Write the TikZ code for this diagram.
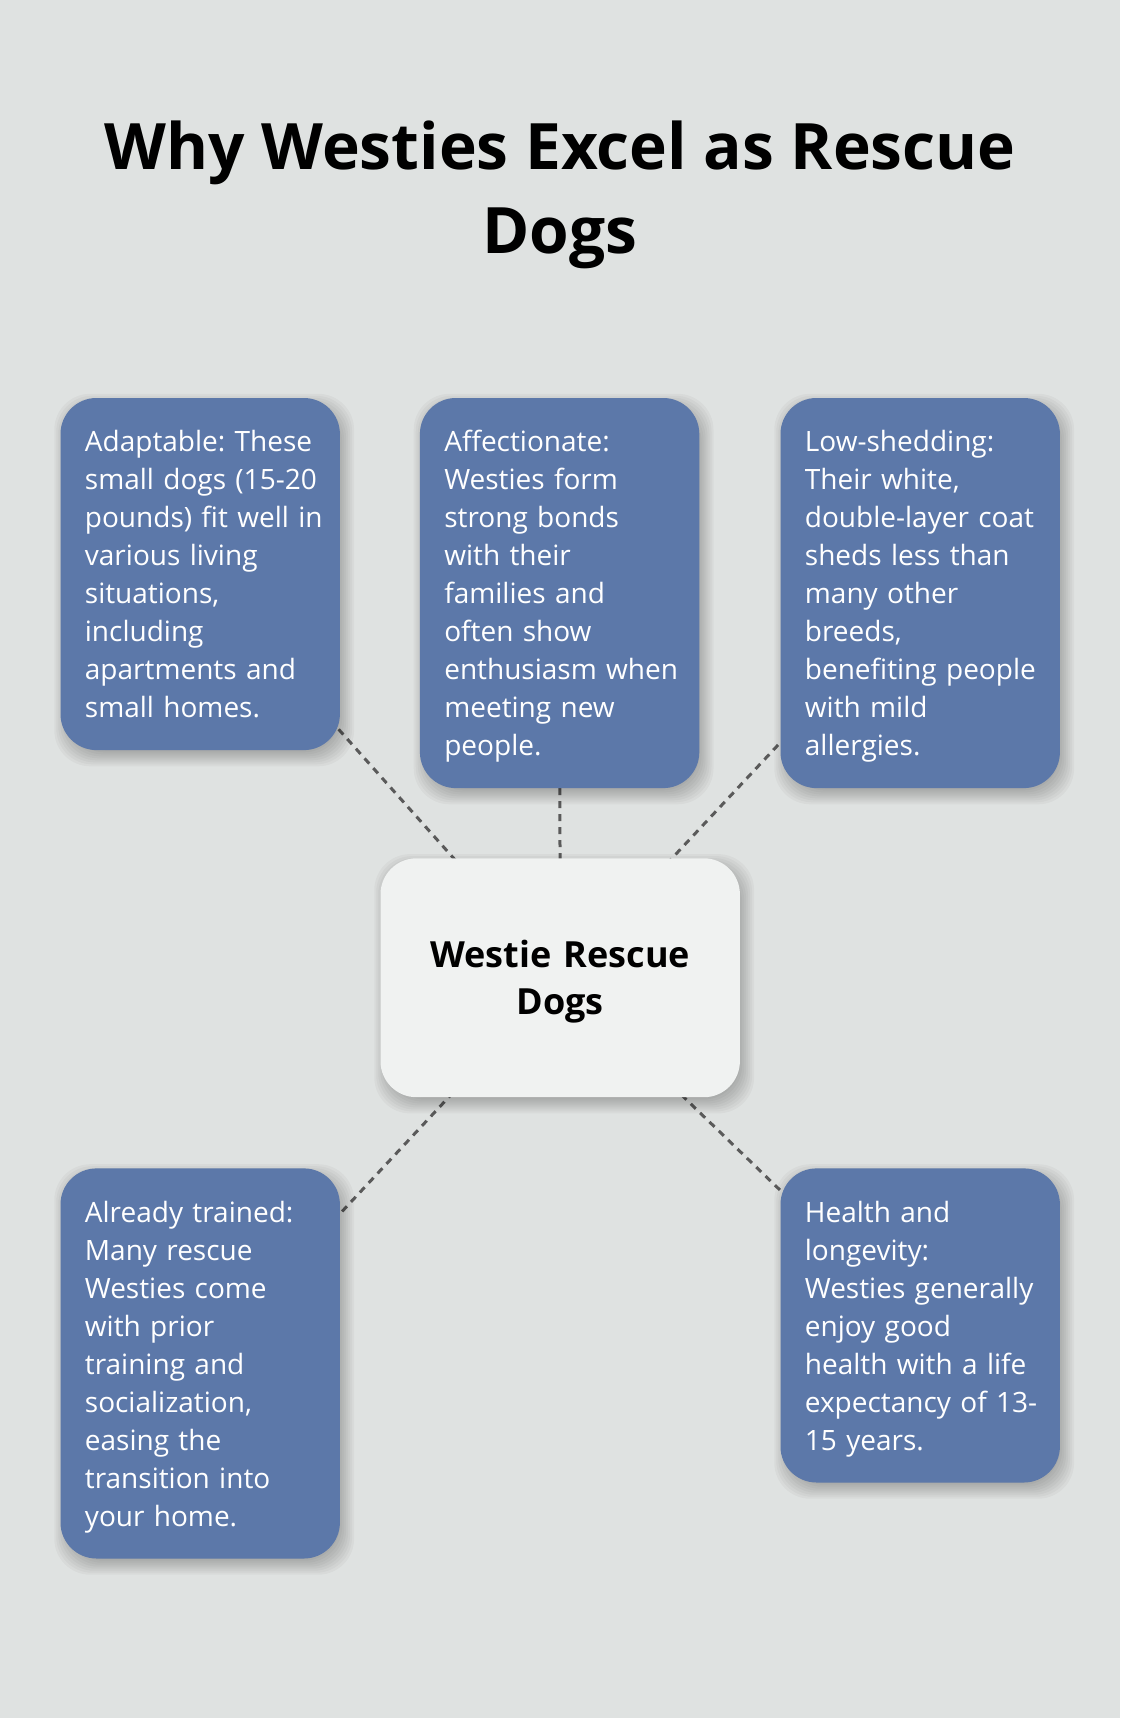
\documentclass[tikz,border=0pt]{standalone}
\usepackage{fontspec}
\setmainfont{Open Sans}
\usepackage{xcolor}
\usetikzlibrary{positioning,calc}
\frenchspacing

\definecolor{pagebg}{HTML}{DFE2E1}
\definecolor{cardblue}{HTML}{5C78A9}
\definecolor{hubfill}{HTML}{F0F2F1}
\definecolor{linkgray}{HTML}{5A5A5A}

\pgfdeclarelayer{bglayer}
\pgfdeclarelayer{links}
\pgfdeclarelayer{shade}
\pgfsetlayers{bglayer,links,shade,main}

\tikzset{
  card/.style={fill=cardblue, rounded corners=36pt, text=white,
    text width=259.4pt, inner xsep=10pt, inner ysep=24pt, anchor=north west,
    font=\fontsize{28}{38}\selectfont,
    execute at begin node={\parindent=0pt\leftskip=14.4pt\rule{0pt}{29.9pt}},
    execute at end node={\rule[-8.2pt]{0pt}{8.2pt}}},
  hub/.style={fill=hubfill, rounded corners=36pt, align=center, inner sep=0pt,
    text width=359.4pt, minimum height=238.9pt, anchor=north west,
    font=\fontsize{36}{47.7}\bfseries,
    execute at begin node={\rule{0pt}{36.3pt}},
    execute at end node={\rule[-10pt]{0pt}{10pt}}},
  link/.style={draw=linkgray, line width=3pt, dash pattern=on 7pt off 6pt},
  shadowpart/.style={fill=black, opacity=0.032, rounded corners=36pt}
}

% soft shadow behind a box
\newcommand{\boxshadow}[1]{%
  \begin{pgfonlayer}{shade}
    \foreach \e in {10,8,...,-8} {
      \fill[shadowpart] ($(#1.north west)+(4-\e,6-\e)$) rectangle ($(#1.south east)+(4+\e,6+\e)$);
    }
  \end{pgfonlayer}}

\begin{document}
\begin{tikzpicture}[x=1pt, y=-1pt]
        \useasboundingbox (0,0) rectangle (1120,1718);
        \begin{pgfonlayer}{bglayer}
            \fill[pagebg] (0,0) rectangle (1120,1718);
        \end{pgfonlayer}

        % Title
        \node[anchor=north, align=center, inner sep=0pt, font=\fontsize{64}{84.3}\bfseries,
            execute at begin node={\rule{0pt}{50pt}}] (title) at (560,120.7)
            {Why Westies Excel as Rescue\\Dogs};

        % Centre
        \node[hub] (hub) at (380.3,858.1) {Westie Rescue\\Dogs};

        % Cards
        \node[card] (adapt) at (60.3,397.8) {Adaptable: These\\small dogs (15-20\\pounds) fit well in\\various living\\situations,\\including\\apartments and\\small homes.};
        \node[card] (affect) at (419.7,397.8) {Affectionate:\\Westies form\\strong bonds\\with their\\families and\\often show\\enthusiasm when\\meeting new\\people.};
        \node[card] (lowshed) at (780.3,397.8) {Low-shedding:\\Their white,\\double-layer coat\\sheds less than\\many other\\breeds,\\benefiting people\\with mild\\allergies.};
        \node[card] (trained) at (60.3,1168.2) {Already trained:\\Many rescue\\Westies come\\with prior\\training and\\socialization,\\easing the\\transition into\\your home.};
        \node[card] (health) at (780.3,1168.2) {Health and\\longevity:\\Westies generally\\enjoy good\\health with a life\\expectancy of 13-\\15 years.};

        % Shadows
        \foreach \n in {hub, adapt, affect, lowshed, trained, health} {
            \boxshadow{\n}
        }

        % Links
        \begin{pgfonlayer}{links}
            \foreach \n in {adapt, affect, lowshed, trained, health} {
                \draw[link] (\n.center) -- (hub.center);
            }
        \end{pgfonlayer}
\end{tikzpicture}
\end{document}
